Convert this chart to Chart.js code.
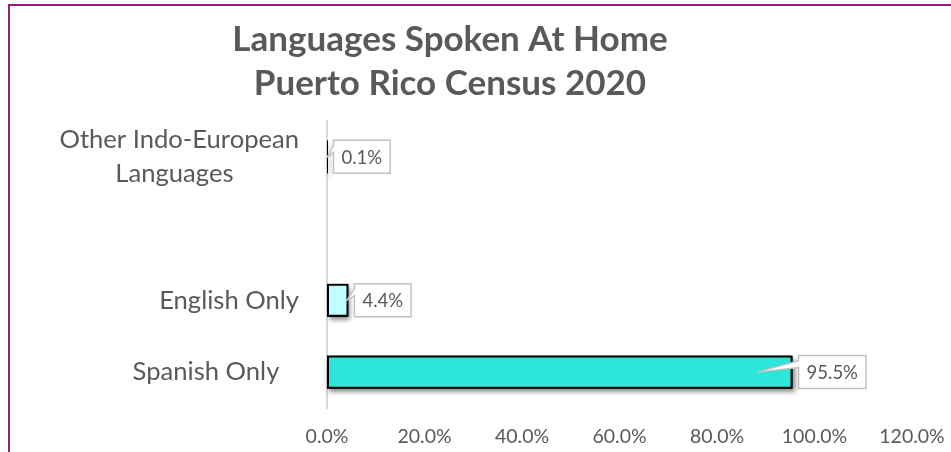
<!DOCTYPE html>
<html><head><meta charset="utf-8">
<script src="https://cdn.jsdelivr.net/npm/chart.js@4"></script>
<style>
html,body{margin:0;padding:0;width:951px;height:452px;overflow:hidden;background:#fff;}
#wrap{position:absolute;left:-51px;top:0;width:1002px;height:452px;}
#frame{position:absolute;left:8px;top:4px;width:1000px;height:500px;border-left:2px solid #951C81;border-top:2px solid #951C81;pointer-events:none;}
</style></head><body>
<div id="wrap"><canvas id="c"></canvas></div>
<div id="frame"></div>
<script>
// ---- data ----
const titleLines = ["Languages Spoken At Home", "Puerto Rico Census 2020"];
const categories = ["Other Indo-European Languages", "", "English Only", "Spanish Only"];
const values = [0.1, null, 4.4, 95.5];
const barColors = ["#6FCFC8", "#ffffff", "#C0FFFF", "#2DE5D8"];
const xTicks = [0, 20, 40, 60, 80, 100, 120];

const FONT = "Lato";
const TXT = "#595959";
const fmt = v => v.toFixed(1) + "%";

// measuring helper for label alignment
const mctx = document.createElement("canvas").getContext("2d");
function w(text, size){ mctx.font = size + "px " + FONT; return mctx.measureText(text).width; }
function padTo(text, target, size){ let t = text; while (w(t, size) < target) t += " "; return t; }
const LBL = 25.6;
function tickLabel(i){
  const c = categories[i];
  if (c === "Other Indo-European Languages") {
    const a = "Other Indo-European", b = "Languages";
    const wa = w(a, LBL), wb = w(b, LBL);
    return [a, padTo(b, (wa + wb) / 2, LBL)];
  }
  if (c === "Spanish Only") return padTo(c, w(c, LBL) + 19, LBL);
  return c;
}

const shadowPlugin = {
  id: "barShadow",
  beforeDatasetDraw(chart, args) {
    const ctx = chart.ctx;
    const meta = args.meta;
    ctx.save();
    ctx.shadowColor = "rgba(0,0,0,0.5)";
    ctx.shadowBlur = 5;
    ctx.shadowOffsetX = 2;
    ctx.shadowOffsetY = 3;
    ctx.fillStyle = "#000";
    meta.data.forEach((el, i) => {
      if (values[i] == null) return;
      const p = el.getProps(["x", "y", "base", "height"], true);
      const l = Math.min(p.x, p.base), r = Math.max(p.x, p.base);
      ctx.fillRect(l, p.y - p.height / 2, Math.max(r - l, 1), p.height);
    });
    ctx.restore();
  }
};

const labelPlugin = {
  id: "calloutLabels",
  afterDatasetsDraw(chart) {
    const ctx = chart.ctx;
    const meta = chart.getDatasetMeta(0);
    ctx.save();
    ctx.font = "18.5px " + FONT;
    meta.data.forEach((el, i) => {
      const v = values[i];
      if (v == null) return;
      const p = el.getProps(["x", "y", "base", "height"], true);
      const text = fmt(v);
      const tw = ctx.measureText(text).width;
      const padX = 8, boxH = 33, gap = 6;
      const bx = p.x + gap, by = p.y - boxH / 2, bw = tw + padX * 2;
      const tipX = p.x - Math.min(35, (p.x - p.base) * 0.075);
      const tipY = p.y;
      ctx.beginPath();
      ctx.moveTo(bx, by);
      ctx.lineTo(bx + bw, by);
      ctx.lineTo(bx + bw, by + boxH);
      ctx.lineTo(bx, by + boxH);
      ctx.lineTo(bx, by + 12);
      ctx.lineTo(tipX, tipY);
      ctx.lineTo(bx, by + 5);
      ctx.closePath();
      ctx.fillStyle = "#fff";
      ctx.fill();
      ctx.lineWidth = 1.5;
      ctx.strokeStyle = "#C3C3C3";
      ctx.stroke();
      ctx.fillStyle = TXT;
      ctx.textAlign = "center";
      ctx.textBaseline = "middle";
      ctx.fillText(text, bx + bw / 2, p.y + 1);
    });
    ctx.restore();
  }
};

new Chart(document.getElementById("c"), {
  type: "bar",
  data: {
    labels: categories,
    datasets: [{
      data: values,
      backgroundColor: barColors,
      borderColor: "#000",
      borderWidth: 2,
      borderSkipped: false,
      barPercentage: 0.46,
      categoryPercentage: 1
    }]
  },
  options: {
    indexAxis: "y",
    responsive: true,
    maintainAspectRatio: false,
    devicePixelRatio: 1,
    animation: false,
    layout: { padding: { left: 39, right: 39, top: 8, bottom: 3.6 } },
    plugins: {
      legend: { display: false },
      tooltip: { enabled: false },
      title: {
        display: true,
        text: titleLines,
        color: TXT,
        font: { family: FONT, size: 35, weight: "bold", lineHeight: 1.257 },
        padding: { top: 10, bottom: 15 }
      }
    },
    scales: {
      x: {
        min: 0, max: 120,
        afterBuildTicks: s => { s.ticks = xTicks.map(v => ({ value: v })); },
        afterFit: s => { s.height = 40.4; s.paddingLeft = 0; s.paddingRight = 0; },
        ticks: {
          callback: v => fmt(v),
          color: TXT,
          font: { family: FONT, size: 19.5 },
          padding: 17,
          maxRotation: 0,
          autoSkip: false
        },
        grid: { display: false, drawTicks: false },
        border: { display: false }
      },
      y: {
        afterFit: s => { s.width = 339; s.paddingTop = 0; s.paddingBottom = 0; },
        ticks: {
          callback: (v, i) => tickLabel(i),
          color: TXT,
          font: { family: FONT, size: LBL, lineHeight: 1.33 },
          padding: 28,
          autoSkip: false
        },
        grid: { display: false, drawTicks: false },
        border: { display: true, color: "#D9D9D9", width: 2 }
      }
    }
  },
  plugins: [shadowPlugin, labelPlugin]
});
</script>
</body></html>
